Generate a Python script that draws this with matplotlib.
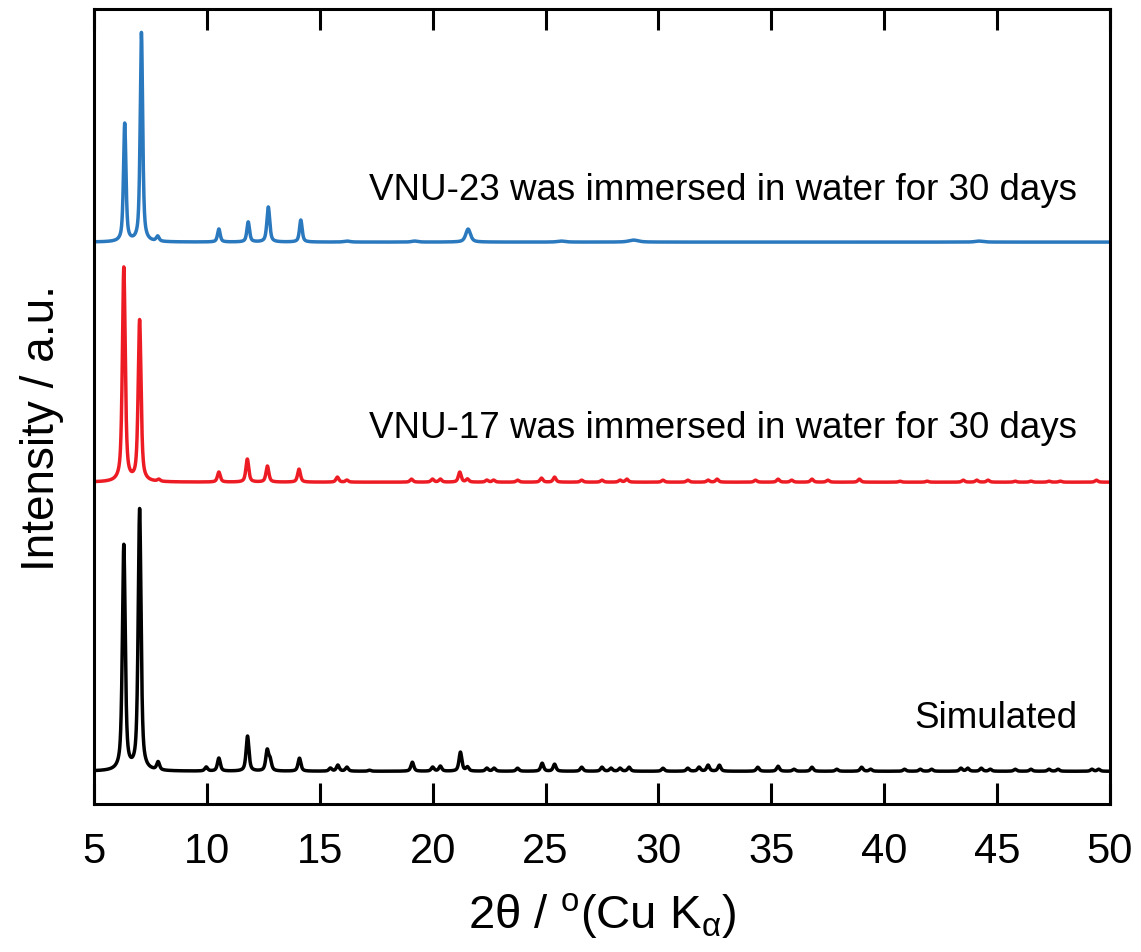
import numpy as np
import matplotlib as mpl
mpl.use("agg")
import matplotlib.pyplot as plt

plt.rcParams['font.family'] = ['Liberation Sans', 'DejaVu Sans']
plt.rcParams['mathtext.fontset'] = 'custom'
plt.rcParams['mathtext.rm'] = 'Liberation Sans'
plt.rcParams['mathtext.it'] = 'Liberation Sans:italic'

# simulated pattern: peak positions (2theta, deg) and heights (a.u.)
sim_pos = [6.32, 7.02, 7.84, 9.97, 10.53, 11.80, 12.67, 12.80, 14.10, 15.47, 15.80,
           16.20, 17.20, 19.10, 20.00, 20.34, 21.23, 21.54, 22.40, 22.72, 23.76,
           24.85, 25.40, 26.60, 27.50, 27.90, 28.30, 28.70, 30.20, 31.30, 31.80,
           32.20, 32.70, 34.40, 35.30, 36.00, 36.80, 37.90, 39.00, 39.40, 40.90,
           41.60, 42.10, 43.40, 43.70, 44.30, 44.70, 45.80, 46.50, 47.30, 47.70,
           49.20, 49.50]
sim_height = [225, 261, 8, 4, 13, 35, 20, 10, 13, 3, 6,
              4, 1, 9, 4, 5, 19, 4, 3, 3, 3,
              8, 7, 4, 4, 3, 3, 4, 3, 3, 4,
              6, 6, 4, 5, 2, 4, 2, 4, 2, 2,
              2, 2, 3, 3, 3, 2, 2, 2, 2, 2,
              2, 2]

# VNU-17 after 30 days in water
v17_pos = [6.32, 7.02, 7.87, 10.53, 11.79, 12.68, 14.08, 15.78, 16.20, 19.06,
           19.99, 20.34, 21.20, 21.54, 22.40, 22.70, 23.76, 24.82, 25.40, 26.60,
           27.50, 28.30, 28.60, 30.20, 31.30, 32.20, 32.60, 34.30, 35.30, 35.90,
           36.80, 37.50, 38.90, 40.70, 41.90, 43.50, 44.10, 44.60, 45.80, 46.50,
           47.30, 47.80, 49.40]
v17_height = [214, 161, 2, 10, 23, 16, 13, 5, 2, 3,
              3, 3, 10, 3, 2, 2, 2, 4, 5, 2,
              2, 2, 3, 2, 2, 2, 3, 2, 3, 2,
              3, 2, 3, 1, 1, 2, 2, 2, 1, 1,
              1, 1, 2]

# VNU-23 after 30 days in water
v23_pos = [6.36, 7.10, 7.82, 10.53, 11.83, 12.72, 14.16, 16.20, 19.20, 21.57,
           25.70, 28.90, 44.20]
v23_height = [118, 209, 5, 13, 20, 35, 22, 1, 1, 13,
              1, 2, 1]
v23_width = [0.13, 0.13, 0.15, 0.14, 0.14, 0.15, 0.14, 0.3, 0.3, 0.25,
             0.4, 0.5, 0.4]

offsets = [33, 322, 562]
colors = ['black', '#ed1c24', '#2a78bd']
labels = ['Simulated',
          'VNU-17 was immersed in water for 30 days',
          'VNU-23 was immersed in water for 30 days']
label_y = [77, 367, 605]

tt = np.linspace(5, 50, 9001)


def pattern(pos, height, width=None, eta=0.65):
    y = np.zeros_like(tt)
    if width is None:
        width = [0.15] * len(pos)
    for p, h, w in zip(pos, height, width):
        hw = w / 2
        lor = hw ** 2 / ((tt - p) ** 2 + hw ** 2)
        gau = np.exp(-np.log(2) * ((tt - p) / hw) ** 2)
        y += h * (eta * lor + (1 - eta) * gau)
    return y


curves = [pattern(sim_pos, sim_height),
          pattern(v17_pos, v17_height),
          pattern(v23_pos, v23_height, v23_width)]

fig = plt.figure(figsize=(11.41, 9.53), dpi=100)
ax = fig.add_axes([0.0824, 0.155, 0.8904, 0.8345])

for y, off, c in zip(curves, offsets, colors):
    ax.plot(tt, y + off, color=c, lw=2.5)

for txt, ly in zip(labels, label_y):
    ax.text(48.55, ly, txt, ha='right', va='baseline', fontsize=26.5)

ax.set_xlim(5, 50)
ax.set_ylim(0, 795)
ax.set_xticks(np.arange(5, 51, 5))
ax.set_yticks([])
ax.tick_params(axis='x', direction='in', top=True, length=15, width=2.2,
               labelsize=30, pad=19)
for s in ax.spines.values():
    s.set_linewidth(2.2)

ax.set_xlabel(r'2θ / $^{\mathrm{o}}$(Cu K$_{\mathrm{α}}$)', fontsize=34)
ax.xaxis.set_label_coords(0.5, -0.108)
ax.set_ylabel('Intensity / a.u.', fontsize=33)
ax.yaxis.set_label_coords(-0.03, 0.474)

fig.savefig('out.png', dpi=100)
